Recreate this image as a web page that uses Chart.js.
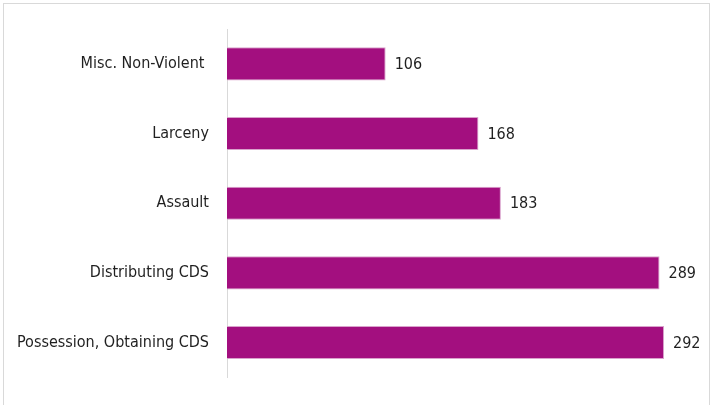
<!DOCTYPE html>
<html>
<head>
<meta charset="utf-8">
<script src="https://cdn.jsdelivr.net/npm/chart.js@4/dist/chart.umd.min.js"></script>
<style>
  html, body { margin: 0; padding: 0; background: #fff; overflow: hidden; }
  #frame { position: absolute; left: 3px; top: 3px; width: 707px; height: 420px; border: 1px solid #d9d9d9; box-sizing: border-box; }
  #wrap { position: absolute; left: 0; top: 0; width: 712px; height: 405px; }
</style>
</head>
<body>
<div id="frame"></div>
<div id="wrap"><canvas id="offenseChart" width="712" height="405"></canvas></div>
<script>
const categories = ["Misc. Non-Violent ", "Larceny", "Assault", "Distributing CDS", "Possession, Obtaining CDS"];
const counts = [106, 168, 183, 289, 292];

const barColor = "#a30f7f";
const textColor = "#1f1f1f";
const fontFamily = "'DejaVu Sans Condensed', 'Liberation Sans Narrow', sans-serif";

// draws the value next to the end of each bar
const valueLabels = {
    id: "valueLabels",
    afterDatasetsDraw(chart) {
        const ctx = chart.ctx;
        const meta = chart.getDatasetMeta(0);
        ctx.save();
        ctx.font = "16px " + fontFamily;
        ctx.fillStyle = textColor;
        ctx.textAlign = "left";
        ctx.textBaseline = "middle";
        meta.data.forEach((bar, i) => {
            ctx.fillText(String(counts[i]), bar.x + 9, bar.y + 1);
        });
        ctx.restore();
    }
};

const ctx = document.getElementById("offenseChart").getContext("2d");
new Chart(ctx, {
    type: "bar",
    data: {
        labels: categories,
        datasets: [{
            data: counts,
            backgroundColor: barColor,
            borderColor: "#d9a3cc",
            borderWidth: 1,
            borderSkipped: "start",
            categoryPercentage: 0.5,
            barPercentage: 0.95
        }]
    },
    options: {
        indexAxis: "y",
        responsive: false,
        animation: false,
        layout: {
            padding: { top: 29, bottom: 24, left: 0, right: 36 }
        },
        plugins: {
            legend: { display: false },
            tooltip: { enabled: false }
        },
        scales: {
            x: {
                display: false,
                min: 0,
                max: 300
            },
            y: {
                afterFit(scale) { scale.width = 227; },
                grid: { display: false, drawTicks: false },
                border: { display: true, color: "#d9d9d9", width: 1 },
                ticks: {
                    padding: 18,
                    color: textColor,
                    font: { family: fontFamily, size: 16 }
                }
            }
        }
    },
    plugins: [valueLabels]
});
</script>
</body>
</html>
